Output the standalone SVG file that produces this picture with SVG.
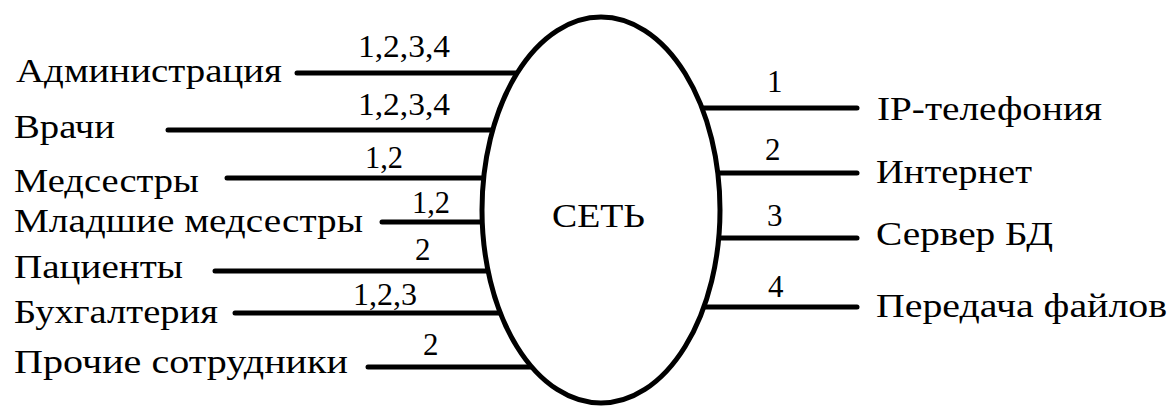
<svg xmlns="http://www.w3.org/2000/svg" width="1173" height="406" viewBox="0 0 1173 406">
<style>
.t{font-size:34px}
.n{font-size:31px}
.c{stroke:#000;stroke-width:5;stroke-linecap:round;fill:none}
</style>
<rect width="1173" height="406" fill="#fff"/>
<g font-family="Liberation Serif" fill="#000" lengthAdjust="spacingAndGlyphs">
<g id="connectors">
<line class="c" x1="297" y1="73" x2="520" y2="73"/>
<line class="c" x1="168" y1="130" x2="496" y2="130"/>
<line class="c" x1="227" y1="178" x2="487" y2="178"/>
<line class="c" x1="382" y1="222" x2="486" y2="222"/>
<line class="c" x1="215" y1="271" x2="491" y2="271"/>
<line class="c" x1="235" y1="313" x2="503" y2="313"/>
<line class="c" x1="368" y1="367" x2="534" y2="367"/>
<line class="c" x1="699" y1="108" x2="857" y2="108"/>
<line class="c" x1="714" y1="173" x2="857" y2="173"/>
<line class="c" x1="715" y1="238" x2="857" y2="238"/>
<line class="c" x1="700" y1="307" x2="857" y2="307"/>
<text class="n" x="358" y="57" textLength="92" lengthAdjust="spacingAndGlyphs">1,2,3,4</text>
<text class="n" x="358" y="115" textLength="92" lengthAdjust="spacingAndGlyphs">1,2,3,4</text>
<text class="n" x="365" y="168" textLength="38" lengthAdjust="spacingAndGlyphs">1,2</text>
<text class="n" x="412" y="213" textLength="38" lengthAdjust="spacingAndGlyphs">1,2</text>
<text class="n" x="415" y="260">2</text>
<text class="n" x="353" y="305" textLength="64" lengthAdjust="spacingAndGlyphs">1,2,3</text>
<text class="n" x="423" y="355">2</text>
<text class="n" x="767" y="92">1</text>
<text class="n" x="765" y="160">2</text>
<text class="n" x="767" y="226">3</text>
<text class="n" x="768" y="297">4</text>
</g>
<g id="net">
<ellipse cx="601" cy="210" rx="119" ry="193" fill="#fff" stroke="#000" stroke-width="5"/>
<text class="t" x="552" y="227" textLength="93" lengthAdjust="spacingAndGlyphs">СЕТЬ</text>
</g>
<g id="n-admin"><text class="t" x="16" y="82" textLength="266" lengthAdjust="spacingAndGlyphs">Администрация</text></g>
<g id="n-vrachi"><text class="t" x="14" y="138" textLength="101" lengthAdjust="spacingAndGlyphs">Врачи</text></g>
<g id="n-medsestry"><text class="t" x="14" y="192" textLength="185" lengthAdjust="spacingAndGlyphs">Медсестры</text></g>
<g id="n-mladshie"><text class="t" x="14" y="232" textLength="349" lengthAdjust="spacingAndGlyphs">Младшие медсестры</text></g>
<g id="n-pacienty"><text class="t" x="14" y="278" textLength="169" lengthAdjust="spacingAndGlyphs">Пациенты</text></g>
<g id="n-buh"><text class="t" x="14" y="323" textLength="204" lengthAdjust="spacingAndGlyphs">Бухгалтерия</text></g>
<g id="n-prochie"><text class="t" x="14" y="373" textLength="334" lengthAdjust="spacingAndGlyphs">Прочие сотрудники</text></g>
<g id="n-ip"><text class="t" x="877" y="120" textLength="225" lengthAdjust="spacingAndGlyphs">IP-телефония</text></g>
<g id="n-internet"><text class="t" x="876" y="183" textLength="156" lengthAdjust="spacingAndGlyphs">Интернет</text></g>
<g id="n-server"><text class="t" x="876" y="245" textLength="177" lengthAdjust="spacingAndGlyphs">Сервер БД</text></g>
<g id="n-files"><text class="t" x="876" y="317" textLength="291" lengthAdjust="spacingAndGlyphs">Передача файлов</text></g>
</g>
</svg>
